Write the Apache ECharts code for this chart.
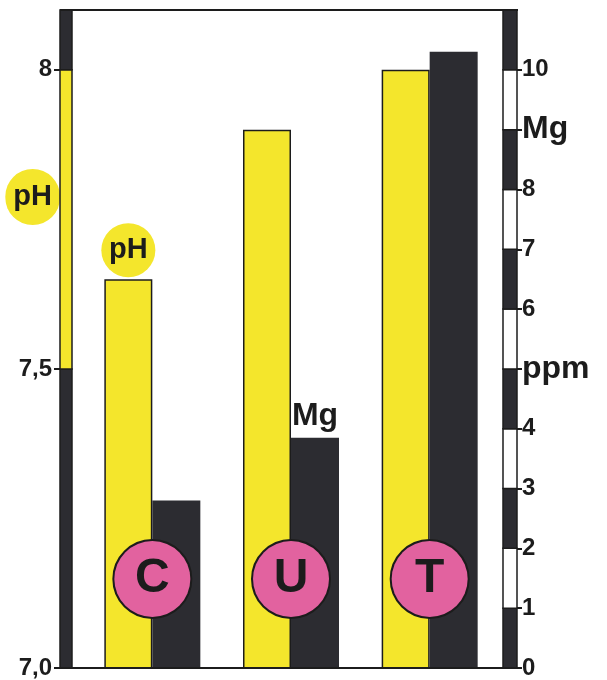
<!DOCTYPE html>
<html>
<head>
<meta charset="utf-8">
<script src="https://cdn.jsdelivr.net/npm/echarts@6/dist/echarts.min.js"></script>
<style>
html, body { margin: 0; padding: 0; background: #fff; }
#chart { width: 607px; height: 680px; }
</style>
</head>
<body>
<div id="chart"></div>
<script>
// data
var sites = ['C', 'U', 'T'];
var phValues = [7.65, 7.9, 8.0];
var mgValues = [2.8, 3.85, 10.3];
var phTicks = [7, 7.5, 8];
var phTickLabels = ['7,0', '7,5', '8'];
var ppmTicks = [0, 1, 2, 3, 4, 5, 6, 7, 8, 9, 10];
var ppmTickLabels = ['0', '1', '2', '3', '4', 'ppm', '6', '7', '8', 'Mg', '10'];
var phBandEdges = [7, 7.5, 8, 8.1];
var ppmBandEdges = [0, 1, 2, 3, 4, 5, 6, 7, 8, 9, 10, 11];

var YELLOW = '#f4e62c';
var DARK = '#2c2c31';
var PINK = '#e2629f';
var INK = '#1c1c1c';
var FONT = 'Liberation Sans, Arial, sans-serif';

// striped bar that stands in for an axis line
function bandSeries (edges, axisIdx, colors, side) {
  var data = [];
  for (var i = 0; i < edges.length - 1; i++) {
    data.push([0, edges[i], edges[i + 1], i]);
  }
  return {
    type: 'custom',
    yAxisIndex: axisIdx,
    z: 3,
    silent: true,
    data: data,
    renderItem: function (params, api) {
      var cs = params.coordSys;
      var yTop = api.coord([0, api.value(2)])[1];
      var yBot = api.coord([0, api.value(1)])[1];
      var x = side === 'left' ? cs.x - 23 : cs.x + cs.width + 4;
      var w = side === 'left' ? 12 : 14;
      return {
        type: 'rect',
        shape: { x: x, y: yTop, width: w, height: yBot - yTop },
        style: { fill: colors[api.value(3) % colors.length], stroke: INK, lineWidth: 1.5 }
      };
    }
  };
}

var chart = echarts.init(document.getElementById('chart'));
chart.setOption({
  animation: false,
  textStyle: { fontFamily: FONT },
  grid: { left: 83, right: 108, top: 10, bottom: 12 },
  xAxis: {
    type: 'category',
    data: sites,
    z: 10,
    axisLine: { show: false },
    axisTick: { show: false },
    axisLabel: {
      inside: true,
      margin: 51,
      width: 76,
      height: 76,
      lineHeight: 76,
      align: 'center',
      borderRadius: 38,
      borderWidth: 2,
      borderColor: INK,
      backgroundColor: PINK,
      color: INK,
      fontSize: 48,
      fontWeight: 'bold',
      fontFamily: FONT
    }
  },
  yAxis: [
    {
      type: 'value',
      position: 'left',
      offset: 23,
      min: 7,
      max: 8.1,
      splitLine: { show: false },
      axisLine: { show: false },
      axisTick: { show: true, length: 6, customValues: phTicks, lineStyle: { color: INK, width: 2 } },
      axisLabel: {
        customValues: phTicks,
        margin: 8,
        color: INK,
        fontSize: 24,
        fontWeight: 'bold',
        fontFamily: FONT,
        formatter: function (v) {
          var i = phTicks.indexOf(v);
          return i >= 0 ? phTickLabels[i] : '';
        }
      },
      name: 'pH',
      nameLocation: 'end',
      nameGap: -187,
      nameTextStyle: {
        align: 'right',
        verticalAlign: 'middle',
        height: 56,
        lineHeight: 56,
        padding: [0, 8, 0, 8],
        borderRadius: 28,
        backgroundColor: YELLOW,
        color: INK,
        fontSize: 29,
        fontWeight: 'bold',
        fontFamily: FONT
      }
    },
    {
      type: 'value',
      position: 'right',
      offset: 18,
      min: 0,
      max: 11,
      splitLine: { show: false },
      axisLine: { show: false },
      axisTick: { show: true, length: 5, customValues: ppmTicks, lineStyle: { color: INK, width: 2 } },
      axisLabel: {
        customValues: ppmTicks,
        margin: 5,
        color: INK,
        fontSize: 24,
        fontWeight: 'bold',
        fontFamily: FONT,
        formatter: function (v) {
          var i = ppmTicks.indexOf(v);
          if (i < 0) return '';
          var t = ppmTickLabels[i];
          return isNaN(Number(t)) ? '{big|' + t + '}' : t;
        },
        rich: {
          big: { fontSize: 32, fontWeight: 'bold', color: INK, fontFamily: FONT }
        }
      }
    }
  ],
  series: [
    {
      name: 'pH',
      type: 'bar',
      yAxisIndex: 0,
      barWidth: 48,
      barGap: '0%',
      z: 2,
      itemStyle: { color: YELLOW, borderColor: INK, borderWidth: 1.5 },
      data: phValues.map(function (v, i) {
        if (i !== 0) return v;
        return {
          value: v,
          label: {
            show: true,
            position: 'top',
            distance: 2,
            formatter: 'pH',
            width: 54,
            height: 54,
            lineHeight: 54,
            align: 'center',
            borderRadius: 27,
            backgroundColor: YELLOW,
            color: INK,
            fontSize: 29,
            fontWeight: 'bold',
            fontFamily: FONT
          }
        };
      })
    },
    {
      name: 'Mg',
      type: 'bar',
      yAxisIndex: 1,
      barWidth: 48,
      barGap: '0%',
      z: 2,
      itemStyle: { color: DARK },
      data: mgValues.map(function (v, i) {
        if (i !== 1) return v;
        return {
          value: v,
          label: {
            show: true,
            position: 'top',
            distance: 6,
            formatter: 'Mg',
            color: INK,
            fontSize: 32,
            fontWeight: 'bold',
            fontFamily: FONT
          }
        };
      })
    },
    bandSeries(phBandEdges, 0, [DARK, YELLOW], 'left'),
    bandSeries(ppmBandEdges, 1, [DARK, '#ffffff'], 'right'),
    {
      // frame lines top and bottom
      type: 'custom',
      silent: true,
      z: 4,
      data: [[0, 7]],
      renderItem: function (params, api) {
        var cs = params.coordSys;
        var bottom = cs.y + cs.height;
        return {
          type: 'group',
          children: [
            { type: 'line', shape: { x1: cs.x - 23, y1: cs.y, x2: cs.x + cs.width + 19, y2: cs.y }, style: { stroke: INK, lineWidth: 2 } },
            { type: 'line', shape: { x1: cs.x - 25, y1: bottom, x2: cs.x + cs.width + 18, y2: bottom }, style: { stroke: INK, lineWidth: 2 } }
          ]
        };
      }
    }
  ]
});
</script>
</body>
</html>
